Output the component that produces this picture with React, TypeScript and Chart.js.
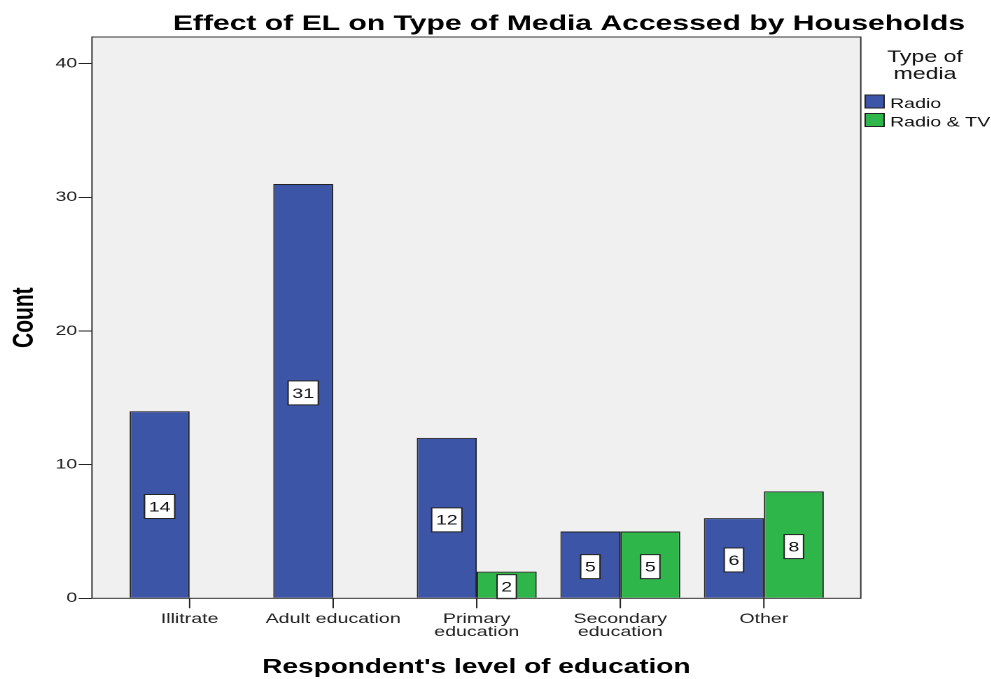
import React, { useEffect, useRef } from 'react';
import { Chart, registerables } from 'chart.js';

Chart.register(...registerables);

// Chart content
const chartTitle = 'Effect of EL on Type of Media Accessed by Households';
const xAxisTitle = "Respondent's level of education";
const yAxisTitle = 'Count';
const legendTitleLines = ['Type of', 'media'];
const seriesNames = ['Radio', 'Radio & TV'];
const seriesColors = ['#3d55a6', '#2fb64b'];

const categories = ['Illitrate', 'Adult education', 'Primary education', 'Secondary education', 'Other'];
const categoryTickLines = [['Illitrate'], ['Adult education'], ['Primary', 'education'], ['Secondary', 'education'], ['Other']];
const radioCounts: (number | null)[] = [14, 31, 12, 5, 6];
const radioTvCounts: (number | null)[] = [null, null, 2, 5, 8];
const yTicks = [0, 10, 20, 30, 40];
const yMax = 42;

// The drawing is laid out on a narrower canvas and widened horizontally.
const STRETCH = 1.4;
const OUT_W = 991;
const OUT_H = 679;
const CANVAS_W = OUT_W / STRETCH;
const CANVAS_H = OUT_H;

const FONT = '"Liberation Sans", Arial, Helvetica, sans-serif';

const chromePlugin = {
  id: 'chrome',
  beforeDraw(chart: any) {
    const { ctx, chartArea } = chart;
    ctx.save();
    ctx.fillStyle = '#ffffff';
    ctx.fillRect(0, 0, chart.width, chart.height);
    ctx.fillStyle = '#f0f0f0';
    ctx.fillRect(chartArea.left, chartArea.top, chartArea.right - chartArea.left, chartArea.bottom - chartArea.top);
    ctx.restore();
  },
  afterDatasetsDraw(chart: any) {
    const { ctx } = chart;
    ctx.save();
    ctx.font = `14px ${FONT}`;
    chart.data.datasets.forEach((ds: any, di: number) => {
      const meta = chart.getDatasetMeta(di);
      meta.data.forEach((el: any, i: number) => {
        const v = ds.data[i].y;
        if (v === null || v === undefined) return;
        const text = String(v);
        const tw = ctx.measureText(text).width;
        const w = tw + 6;
        const h = 24;
        const cy = (el.y + el.base) / 2 + 2;
        ctx.fillStyle = '#ffffff';
        ctx.fillRect(el.x - w / 2, cy - h / 2, w, h);
        ctx.strokeStyle = '#222222';
        ctx.lineWidth = 1;
        ctx.strokeRect(el.x - w / 2, cy - h / 2, w, h);
        ctx.fillStyle = '#111111';
        ctx.textAlign = 'center';
        ctx.textBaseline = 'middle';
        ctx.fillText(text, el.x, cy + 1);
      });
    });
    ctx.restore();
  },
  afterDraw(chart: any) {
    const { ctx, chartArea } = chart;
    ctx.save();
    // plot frame
    ctx.strokeStyle = '#333333';
    ctx.lineWidth = 1;
    ctx.strokeRect(chartArea.left, chartArea.top, chartArea.right - chartArea.left, chartArea.bottom - chartArea.top);

    // category tick marks below the axis
    const xScale = chart.scales.x;
    ctx.strokeStyle = '#222222';
    ctx.beginPath();
    categories.forEach((_, i) => {
      const px = xScale.getPixelForValue(i);
      ctx.moveTo(px, chartArea.bottom);
      ctx.lineTo(px, chartArea.bottom + 10);
    });
    ctx.stroke();

    // chart title
    ctx.fillStyle = '#000000';
    ctx.textAlign = 'center';
    ctx.textBaseline = 'alphabetic';
    ctx.font = `bold 21.5px ${FONT}`;
    ctx.fillText(chartTitle, 406.4, 30);

    // x axis title
    ctx.font = `bold 20px ${FONT}`;
    ctx.fillText(xAxisTitle, (chartArea.left + chartArea.right) / 2, 673);

    // y axis title
    ctx.save();
    ctx.translate(23.5, (chartArea.top + chartArea.bottom) / 2);
    ctx.rotate(-Math.PI / 2);
    ctx.font = `bold 21px ${FONT}`;
    ctx.fillText(yAxisTitle, 0, 0);
    ctx.restore();

    // legend
    ctx.font = `16.5px ${FONT}`;
    ctx.fillStyle = '#111111';
    legendTitleLines.forEach((line, i) => ctx.fillText(line, 660.7, 62 + i * 17));
    ctx.font = `14px ${FONT}`;
    ctx.textAlign = 'left';
    seriesNames.forEach((name, i) => {
      const y = 95 + i * 18.5;
      ctx.fillStyle = seriesColors[i];
      ctx.fillRect(618, y, 13.5, 13);
      ctx.strokeStyle = '#222222';
      ctx.strokeRect(618, y, 13.5, 13);
      ctx.fillStyle = '#111111';
      ctx.fillText(name, 635.7, y + 13);
    });
    ctx.restore();
  },
};

export default function App() {
  const canvasRef = useRef<HTMLCanvasElement | null>(null);

  useEffect(() => {
    if (!canvasRef.current) return;
    const tickFont = { family: FONT, size: 14, lineHeight: 0.95 };
    const chart = new Chart(canvasRef.current, {
      type: 'bar',
      data: {
        datasets: [
          {
            label: seriesNames[0],
            data: radioCounts.map((v, i) => ({ x: i, y: v })) as any,
            backgroundColor: seriesColors[0],
            borderColor: '#222222',
            borderWidth: 1,
          },
          {
            label: seriesNames[1],
            data: radioTvCounts.map((v, i) => ({ x: i, y: v })) as any,
            backgroundColor: seriesColors[1],
            borderColor: '#222222',
            borderWidth: 1,
          },
        ],
      },
      options: {
        responsive: false,
        animation: false,
        devicePixelRatio: 2,
        layout: { padding: { left: 0, top: 37, right: CANVAS_W - 615.7, bottom: 0 } },
        datasets: { bar: { categoryPercentage: 0.835, barPercentage: 1 } },
        plugins: {
          legend: { display: false },
          title: { display: false },
          tooltip: { enabled: false },
        },
        scales: {
          x: {
            type: 'linear',
            offset: false,
            min: -0.68,
            max: 4.675,
            afterBuildTicks: (s: any) => {
              s.ticks = categories.map((_, i) => ({ value: i }));
            },
            afterFit: (s: any) => {
              s.height = CANVAS_H - 598.3;
            },
            grid: { offset: false, display: false, tickLength: 10 },
            border: { display: false },
            ticks: {
              callback: (v: any) => categoryTickLines[v] ?? '',
              autoSkip: false,
              maxRotation: 0,
              minRotation: 0,
              padding: 4,
              color: '#222222',
              font: tickFont,
            },
          },
          y: {
            min: 0,
            max: yMax,
            afterBuildTicks: (s: any) => {
              s.ticks = yTicks.map((v) => ({ value: v }));
            },
            afterFit: (s: any) => {
              s.width = 65.7;
            },
            grid: { drawOnChartArea: false, drawTicks: true, tickLength: 9.5, color: '#222222', lineWidth: 1 },
            border: { display: false },
            ticks: { padding: 1, color: '#222222', font: tickFont },
          },
        },
      } as any,
      plugins: [chromePlugin],
    });
    return () => chart.destroy();
  }, []);

  return (
    <div style={{ position: 'absolute', left: 0, top: 0, width: OUT_W, height: OUT_H, overflow: 'hidden', background: '#fff' }}>
      <canvas
        ref={canvasRef}
        width={CANVAS_W}
        height={CANVAS_H}
        style={{ transform: `scaleX(${STRETCH})`, transformOrigin: '0 0', display: 'block' }}
      />
    </div>
  );
}
